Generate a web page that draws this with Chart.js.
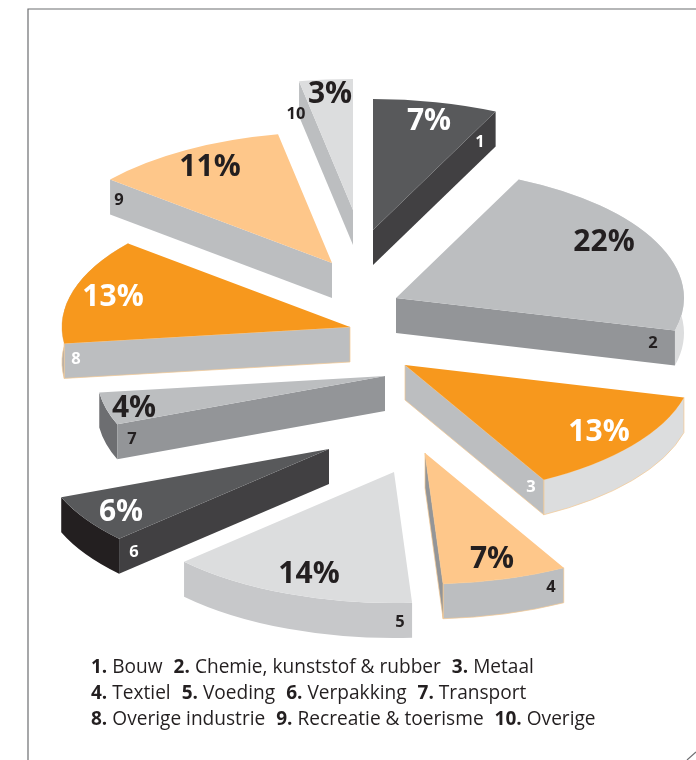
<!DOCTYPE html>
<html><head><meta charset="utf-8">
<style>html,body{margin:0;padding:0;background:#fff}canvas{display:block}</style>
<script src="https://cdn.jsdelivr.net/npm/chart.js@4"></script>
</head><body><canvas id="c" width="696" height="760"></canvas>
<script>
const categories=['Bouw','Chemie, kunststof & rubber','Metaal','Textiel','Voeding','Verpakking','Transport','Overige industrie','Recreatie & toerisme','Overige'];
const shares=[7,22,13,7,14,6,4,13,11,3];
const topColors=['#58595b','#bcbec0','#f7981d','#fec78a','#dcddde','#58595b','#bcbec0','#f7981d','#fec78a','#dcddde'];
const startFaceColors=[null,null,null,null,null,'#414042','#939598','#bcbec0','#bcbec0','#bcbec0'];
const endFaceColors=['#414042','#939598','#bcbec0','#939598',null,null,null,null,null,null];
const rimColors=[null,'#dcddde','#dcddde','#bcbec0','#c7c8ca','#231f20','#6d6e71','#a7a9ac',null,null];
const edgeColors=[null,null,'#f5c891','#f5c891',null,null,null,'#f5c891',null,null];
const pctColors=['#fff','#231f20','#fff','#231f20','#231f20','#fff','#231f20','#fff','#231f20','#231f20'];
const numColors=['#fff','#231f20','#fff','#231f20','#231f20','#fff','#231f20','#fff','#231f20','#231f20'];
// layout: where each exploded slice's tip sits relative to the pie centre
const shiftX=[25,48,57,77,46,-19,37,2,-16,5];
const shiftY=[-150,-82,-15,73,92,69,-4,-53,-117,-170];
// text placement relative to each slice's tip
const pctDx=[56,208,194,67,-85,-208,-251,-237,-122,-23];
const pctDy=[-110,-57,66,105,101,62,31,-31,-97,-117];
const numDx=[107,257,126,126,6,-195,-253,-274,-213,-57];
const numDy=[-88,45,122,134,150,103,63,32,-63,-96];
const legendRows=[[0,1,2],[3,4,5,6],[7,8,9]];
const TILT=131/288, DEPTH=35, RADIUS=288, CX=348, CY=380;
const FONT='"Open Sans"';

function screenTip(el){return {x:el.x,y:CY+(el.y-CY)*TILT};}

const pie3d={
  id:'pie3d',
  afterDatasetsUpdate(chart){
    chart.getDatasetMeta(0).data.forEach((el,i)=>{
      el.x=CX+shiftX[i];
      el.y=CY+shiftY[i]/TILT;
    });
  },
  beforeDatasetsDraw(chart){
    const ctx=chart.ctx;
    ctx.save();
    chart.getDatasetMeta(0).data.forEach((el,i)=>{
      const t=screenTip(el),rx=el.outerRadius,ry=rx*TILT;
      const a0=el.startAngle,a1=el.endAngle;
      const pt=a=>({x:t.x+rx*Math.cos(a),y:t.y+ry*Math.sin(a)});
      const finish=(col)=>{
        ctx.fillStyle=col;ctx.fill();
        if(edgeColors[i]){ctx.strokeStyle=edgeColors[i];ctx.lineWidth=.7;ctx.stroke();}
      };
      if(rimColors[i]){
        ctx.beginPath();
        ctx.ellipse(t.x,t.y,rx,ry,0,a0,a1);
        ctx.ellipse(t.x,t.y+DEPTH,rx,ry,0,a1,a0,true);
        ctx.closePath();finish(rimColors[i]);
      }
      const face=(a,col)=>{
        if(!col)return;
        const p=pt(a);
        ctx.beginPath();
        ctx.moveTo(t.x,t.y);ctx.lineTo(p.x,p.y);ctx.lineTo(p.x,p.y+DEPTH);ctx.lineTo(t.x,t.y+DEPTH);
        ctx.closePath();finish(col);
      };
      face(a0,startFaceColors[i]);
      face(a1,endFaceColors[i]);
    });
    ctx.restore();
    ctx.save();
    ctx.translate(0,CY);ctx.scale(1,TILT);ctx.translate(0,-CY);
  },
  afterDatasetsDraw(chart){chart.ctx.restore();},
  afterDraw(chart){
    const ctx=chart.ctx;
    ctx.save();
    // frame
    ctx.strokeStyle='#6d6e71';ctx.lineWidth=1.2;
    ctx.beginPath();ctx.moveTo(696,9);ctx.lineTo(28,9);ctx.lineTo(28,760);ctx.stroke();
    ctx.beginPath();ctx.moveTo(687,760);ctx.lineTo(696,752);ctx.stroke();
    // slice labels
    ctx.textAlign='center';ctx.textBaseline='middle';
    chart.getDatasetMeta(0).data.forEach((el,i)=>{
      const t=screenTip(el);
      ctx.font='bold 30px '+FONT;ctx.fillStyle=pctColors[i];
      ctx.fillText(shares[i]+'%',t.x+pctDx[i],t.y+pctDy[i]+1);
      ctx.font='bold 16.5px '+FONT;ctx.fillStyle=numColors[i];
      ctx.fillText(String(i+1),t.x+numDx[i],t.y+numDy[i]);
    });
    // legend
    ctx.textAlign='left';ctx.textBaseline='alphabetic';ctx.fillStyle='#231f20';
    legendRows.forEach((row,r)=>{
      let x=91;const y=673+r*26;
      row.forEach(i=>{
        ctx.font='bold 19px '+FONT;
        const n=(i+1)+'.';ctx.fillText(n,x,y);x+=ctx.measureText(n).width+5;
        ctx.font='19.1px '+FONT;
        ctx.fillText(categories[i],x,y);x+=ctx.measureText(categories[i]).width+11;
      });
    });
    ctx.restore();
  }
};

new Chart(document.getElementById('c'),{
  type:'pie',
  data:{labels:categories,datasets:[{data:shares,backgroundColor:topColors,borderWidth:0,clip:false}]},
  options:{
    responsive:false,animation:false,radius:RADIUS,
    plugins:{legend:{display:false},tooltip:{enabled:false}}
  },
  plugins:[pie3d]
});
</script></body></html>
